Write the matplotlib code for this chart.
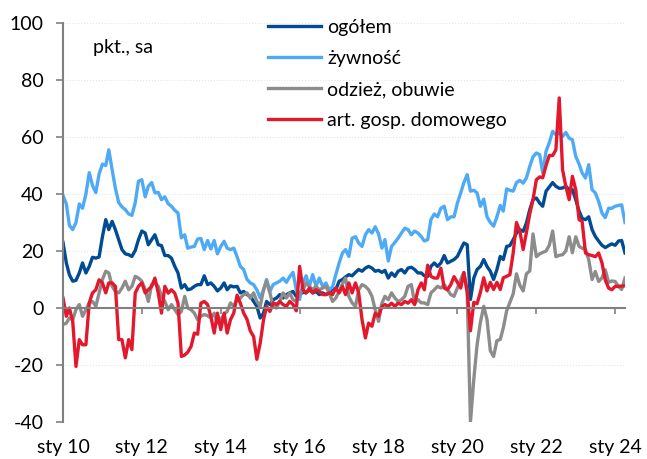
import numpy as np
import pandas as pd
import matplotlib
matplotlib.use('Agg')
import matplotlib.pyplot as plt

plt.rcParams['font.family'] = ['Lato', 'DejaVu Sans']
plt.rcParams['axes.unicode_minus'] = False

# miesieczne dane sty 2010 - kwi 2024
miesiace = pd.date_range('2010-01-01', periods=172, freq='MS')

ogolem = [
    23, 15.8, 11.7, 9.4, 9.7, 12.3, 15.8, 12.3, 14.6, 17.8, 17.5, 17.9,
    25, 31, 27.5, 30.4, 27.5, 24, 20.5, 19, 18.7, 18.1, 20.2, 24,
    27, 26.3, 22.2, 24, 25.7, 22.2, 21.9, 18.4, 18.4, 17.5, 14.6, 12.3,
    7, 8.2, 6.4, 6.7, 7.6, 8.2, 8.2, 11.3, 8.2, 8.8, 7.6, 6,
    7, 8.8, 6.4, 7.8, 7.4, 7.6, 5.3, 5.8, 4.7, 4.1, 2.3, 0.6,
    -3.5, -1.8, 2.3, 1.2, 2.9, 3.5, 4.7, 3.5, 4.7, 5.3, 5.8, 4.1,
    4.7, 5.5, 5.3, 6.4, 5.3, 5.8, 4.7, 5.3, 4.7, 5.3, 7, 6.4,
    9.4, 10, 10.9, 11.7, 11.3, 12.5, 13.5, 12.9, 14, 14.6, 14, 12.9,
    13.2, 12.5, 13.2, 10.5, 12.3, 11.1, 12.9, 13.5, 12.3, 14, 14.3, 13.5,
    12.3, 12.3, 11.3, 11.1, 14.6, 15.8, 14.6, 15.8, 18.4, 15.8, 16.4, 17,
    18.1, 20.5, 22.8, 22.2, 3, 10.5, 13.5, 14.6, 17, 14.6, 12.9, 10,
    13.5, 18.1, 17, 21.6, 21.9, 24, 26.3, 27.5, 26.9, 29.8, 34.5, 38,
    38.6, 36.8, 35.7, 41, 42.5, 44, 42.7, 42, 42.1, 42.7, 41.5, 41.5,
    38, 34, 31.5, 31, 32, 27.5, 25.1, 23.5, 22, 21.2, 21.9, 22.5,
    22, 23.5, 23.7, 19.3,
]

zywnosc = [
    39.5, 36.5, 29, 27.5, 30, 36.5, 35, 40, 47.5, 43, 40.5, 47,
    50.5, 50, 55.5, 48.5, 42, 37, 35.5, 34.5, 33, 32.5, 37, 44.5,
    45, 39, 42.7, 44, 40.4, 40.6, 38, 39, 36.6, 35.7, 34.3, 33.3,
    24.6, 25.7, 21, 21.4, 21.6, 24.2, 24.4, 20.5, 23.7, 20.7, 23.7, 19,
    21.6, 23.4, 21, 20.5, 21, 18, 14.6, 13.5, 10, 8.8, 8.2, 6.4,
    3.5, 6.4, 10, 5.8, 8.2, 8.8, 9.4, 10.5, 9, 11, 12.5, 6.4,
    3, 8.8, 11.3, 7.6, 11.7, 7.6, 10.5, 7.6, 8.8, 6.4, 7.4, 11.7,
    15.8, 19.3, 20.5, 18.1, 24.5, 25, 22.8, 21.6, 25.7, 27.5, 26.3, 28.5,
    26, 21, 24, 16.5, 21.6, 23, 24.5, 26.3, 28, 27.5, 25.7, 27,
    26.3, 25, 23.5, 24, 31, 33, 32, 35, 35.7, 31, 32, 32,
    36.8, 40.4, 44, 46.8, 41, 41.3, 40.4, 35.7, 38.2, 32, 30, 28.7,
    32, 36, 34, 41.8, 41.3, 41, 44, 44.8, 43.8, 45.6, 49.7, 53,
    54.4, 53.8, 47.4, 55, 58, 62, 60.8, 61.4, 60.2, 61.6, 59.6, 59,
    53.2, 50.5, 47.4, 45.6, 50.3, 41.5, 40.4, 37.4, 33.3, 31.7, 35, 35,
    35.7, 36, 36.2, 30,
]

odziez = [
    -5.8, -5.3, -3.5, -4.1, -0.6, 1.2, -2.9, -0.6, 1.8, 2.3, 0.6, 5.3,
    10, 12.9, 12.3, 7.6, 5.8, 5.3, 7, 9.4, 6.4, 7.6, 11.1, 10.5,
    9.4, 6.4, 2.3, 8.2, 8.8, 7.6, 4.1, 2.3, -0.6, 1.2, -0.6, -2.3,
    -1.2, 4.1, 0, -0.6, -1.8, -4.1, -2.9, -2.3, -2.7, -3.5, -1.8, -5.3,
    -4, -2.3, -1.2, 1.8, 0.6, 2.9, 3.5, 4.7, 5.3, 3.5, 5.3, 2.3,
    0.6, 6.4, 9.4, 5.3, 0.6, 0, 2.3, 5.3, 3.5, 5.3, 2.9, 2.3,
    5.3, 6.4, 8.8, 7.6, 6.4, 7.6, 6.4, 7, 7.6, 5.3, 2.3, 3.5,
    5.8, 8.5, 10.5, 4, 1.8, 0.5, 6.4, 8.2, 7.6, 6.4, 4.1, -0.6,
    -4.7, 1.7, 4.1, 2.9, 5.3, 3.5, 2.3, 2.9, 4.1, 7.6, 8.2, 1.7,
    2.9, 1.8, 1.8, 1.2, 5.3, 6.4, 7.6, 7, 8.2, 6.4, 4.7, 4.1,
    7, 10, 12.5, 5.3, -40, -25, -13, -5, 0.6, -4, -15, -17,
    -11.5, -11, -7, -1, 2, 5, 12, 8, 6, 12, 13, 26,
    18, 19, 19.5, 20, 22, 27, 18, 18.5, 18.7, 20, 25, 19.4,
    25, 21.6, 21, 20.5, 17, 10, 12.8, 9.3, 10.6, 13.4, 9, 9.5,
    9.3, 7.5, 6.5, 10.5,
]

agd = [
    3.5, -2.9, 0, -4.7, -20.5, -11.1, -12.9, -12.9, 1.8, 5.3, 6.4, 9.9,
    8.8, 5.3, 8.8, 8.8, 7.6, -11.1, -11.1, -17.5, -11.1, -14.6, 5.3, 7.6,
    8.8, 5.3, 6.4, 7.6, 10.5, 5.3, -1.8, 7.6, 5.2, 6.4, 5.2, 1.7,
    -17, -16.5, -15.5, -13.5, -8.8, -9.2, 1.7, 2.3, 1.2, -2.9, -8.8, -1.8,
    -7.6, -1.8, -8.8, -4.1, -1.8, 4.5, 1.7, -1.8, -4, -8, -10, -18,
    -12.3, -4.1, 0.6, -1.2, 1.8, 1.2, 2.3, 1.2, 0.6, 2.3, 1.2, -1,
    14.6, 6.4, 5.3, 7, 5.3, 6.4, 5.8, 4.7, 4.7, 5.3, 4.7, 7,
    5.3, 7.6, 4.7, 8.8, 5.3, 8.8, 5.3, -4.1, -10.5, -5.3, -6.4, -1.8,
    -2.9, 0.6, 1.2, 0.6, 1.7, 0.6, 1.7, 1.2, 2.3, 1.7, 2.9, 1.2,
    6.4, 8.8, 6.4, 15, 11.1, 10.5, 10.5, 14, 7, 6.4, 8.2, 11,
    9, 7, 12.4, 5.8, -8, 2, 1.5, 5.5, 10.6, 6, 9, 6.5,
    9, 6.5, 10.6, 11.1, 11.7, 19.4, 30, 27, 20.5, 26.4, 33, 38,
    45, 46, 45.7, 50, 53.5, 53.5, 55.5, 73.7, 48.5, 42.7, 38, 46.2,
    41.5, 31, 30.4, 19.3, 18.7, 18.4, 18, 19.3, 15.8, 9.9, 7, 6.4,
    7.6, 7.6, 7.7, 7.8,
]

etykiety_lat = ['sty 10', 'sty 12', 'sty 14', 'sty 16', 'sty 18', 'sty 20', 'sty 22', 'sty 24']
daty_lat = pd.date_range('2010-01-01', '2024-01-01', freq='24MS')

szary = '#808080'

fig = plt.figure(figsize=(6.47, 4.59), dpi=100)
ax = fig.add_axes([63 / 647, 37 / 459, 562 / 647, 399 / 459])

ax.plot(miesiace, ogolem, color='#004B93', lw=2.4, label='ogółem')
ax.plot(miesiace, zywnosc, color='#4FAAF6', lw=2.4, label='żywność')
ax.plot(miesiace, odziez, color='#8C8C8C', lw=2.4, label='odzież, obuwie')
ax.plot(miesiace, agd, color='#E3182D', lw=2.4, label='art. gosp. domowego')

ax.set_xlim(miesiace[0], miesiace[-1])
ax.set_ylim(-40, 100)
ax.set_yticks(range(-40, 101, 20))
ax.yaxis.grid(True, color='#e4e4e4', linestyle=':', lw=0.8)
ax.set_axisbelow(True)

for s in ['top', 'right']:
    ax.spines[s].set_visible(False)
ax.spines['left'].set_color(szary)
ax.spines['left'].set_linewidth(1.5)
ax.spines['bottom'].set_position(('data', 0))
ax.spines['bottom'].set_color(szary)
ax.spines['bottom'].set_linewidth(1.5)

ax.tick_params(axis='y', length=5, width=1.2, color=szary, labelsize=14, pad=9)
ax.set_xticks(daty_lat)
ax.tick_params(axis='x', length=4, width=1.2, color=szary, labelbottom=False)

sec = ax.secondary_xaxis(0.0)
sec.set_xticks(daty_lat, etykiety_lat)
sec.tick_params(length=0, labelsize=14, pad=12)
sec.spines['bottom'].set_visible(False)

fig.text(93 / 647, 1 - 48 / 459, 'pkt., sa', fontsize=14, va='center')

ax.legend(loc='upper left', bbox_to_anchor=(268 / 647, 1 - 19 / 459),
          bbox_transform=fig.transFigure, frameon=False, fontsize=14,
          handlelength=2.7, handletextpad=0.35, labelspacing=0.72,
          borderpad=0, borderaxespad=0)

fig.savefig('out.png', dpi=100)
